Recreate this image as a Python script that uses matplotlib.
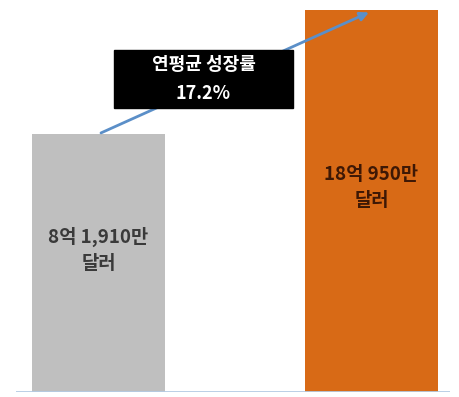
import matplotlib
matplotlib.use("Agg")
import matplotlib.pyplot as plt
from matplotlib.patches import Rectangle

plt.rcParams["font.family"] = ["Noto Sans CJK KR", "DejaVu Sans"]

# market size, unit: 100 million USD
labels = ["8억 1,910만\n달러", "18억 950만\n달러"]
values = [8.191, 18.095]
colors = ["#BFBFBF", "#D86A16"]
cagr_text = "연평균 성장률\n17.2%"

# chart is not drawn from zero in the source, baseline sits below 0
base = -12.4

fig = plt.figure(figsize=(4.59, 3.97), dpi=100)
ax = fig.add_axes([16 / 459, 5 / 397, 434 / 459, 382 / 397])

x = [0, 1]
ax.bar(x, [v - base for v in values], bottom=base, width=0.487, color=colors, zorder=2)
ax.set_xlim(-0.302, 1.2875)
ax.set_ylim(base, values[1])

# bar labels
ax.text(x[0], base + (values[0] - base) * 0.55, labels[0], ha="center", va="center",
        fontsize=13.5, fontweight="bold", color="#3a3a3a", linespacing=1.45, zorder=3)
ax.text(x[1], base + (values[1] - base) * 0.535, labels[1], ha="center", va="center",
        fontsize=13.5, fontweight="bold", color="#3e1805", linespacing=1.45, zorder=3)

# growth arrow
ax.annotate("", xy=(x[1], values[1] - 0.1), xytext=(x[0], values[0]),
            arrowprops=dict(arrowstyle="-|>", color="#5B8FC8", lw=2, mutation_scale=13),
            zorder=4)

# CAGR box (placed in axes fraction)
ax.add_patch(Rectangle((0.2258, 0.7435), 0.4124, 0.1518,
                       transform=ax.transAxes, fc="black", ec="black", zorder=5))
ax.text(0.432, 0.8194, cagr_text, transform=ax.transAxes, ha="center", va="center",
        fontsize=13, fontweight="bold", color="white", linespacing=1.7, zorder=6)

ax.axhline(base, color="#B4CBE4", lw=2, zorder=3)
for s in ax.spines.values():
    s.set_visible(False)
ax.set_xticks([])
ax.set_yticks([])

fig.savefig("out.png", dpi=100)
